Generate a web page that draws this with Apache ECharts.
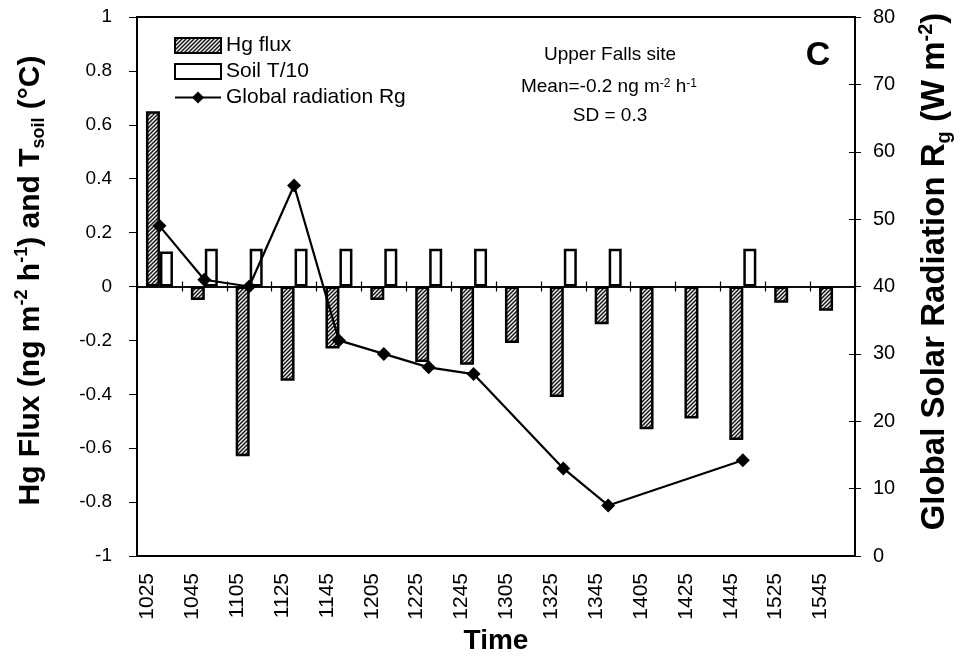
<!DOCTYPE html>
<html>
<head>
<meta charset="utf-8">
<script src="https://cdn.jsdelivr.net/npm/echarts@6/dist/echarts.min.js"></script>
<style>
  html, body { margin: 0; padding: 0; background: #fff; }
  #chart { width: 962px; height: 668px; }
</style>
</head>
<body>
<div id="chart"></div>
<script>
// sample times (HHMM), 1505 was not measured
var times = ['1025', '1045', '1105', '1125', '1145', '1205', '1225', '1245',
             '1305', '1325', '1345', '1405', '1425', '1445', '1525', '1545'];
// Hg flux, ng m-2 h-1
var hgFlux = [0.65, -0.05, -0.63, -0.35, -0.23, -0.05, -0.28, -0.29,
              -0.21, -0.41, -0.14, -0.53, -0.49, -0.57, -0.06, -0.09];
// soil temperature / 10
var soilT = [0.13, 0.14, 0.14, 0.14, 0.14, 0.14, 0.14, 0.14,
             null, 0.14, 0.14, null, null, 0.14, null, null];
// global radiation Rg, W m-2
var rg = [49, 41, 40, 55, 32, 30, 28, 27,
          null, 13, 7.5, null, null, 14.2, null, null];

var FONT = 'Liberation Sans, Arial, Helvetica, sans-serif';

// diagonal hatch used for the Hg flux bars
function hatch() {
  var c = document.createElement('canvas');
  c.width = 4; c.height = 4;
  var g = c.getContext('2d');
  g.fillStyle = '#eee';
  g.fillRect(0, 0, 4, 4);
  g.strokeStyle = '#111';
  g.lineWidth = 1.4;
  g.beginPath();
  g.moveTo(-1, 5); g.lineTo(5, -1);
  g.moveTo(-1, 1); g.lineTo(1, -1);
  g.moveTo(3, 5); g.lineTo(5, 3);
  g.stroke();
  return c;
}

function nameRich(size) {
  return {
    b: { fontSize: size, fontWeight: 'bold', fontFamily: FONT, color: '#000', lineHeight: size + 5 },
    sup: { fontSize: Math.round(size * 0.6), fontWeight: 'bold', fontFamily: FONT, color: '#000', verticalAlign: 'top', lineHeight: 16 },
    sub: { fontSize: Math.round(size * 0.6), fontWeight: 'bold', fontFamily: FONT, color: '#000', verticalAlign: 'bottom', lineHeight: 16 }
  };
}

var myChart = echarts.init(document.getElementById('chart'));
var zeroAxis = function (inside) {
  return {
    type: 'category',
    data: times,
    position: 'bottom',
    axisLine: { onZero: true, onZeroAxisIndex: 0, lineStyle: { color: '#000', width: 1.5 } },
    axisTick: { show: true, inside: inside, length: 5, lineStyle: { color: '#000', width: 1.2 } },
    axisLabel: { show: false },
    splitLine: { show: false }
  };
};

myChart.setOption({
  animation: false,
  backgroundColor: '#fff',
  textStyle: { fontFamily: FONT, color: '#000' },
  grid: {
    left: 137, right: 102, top: 17, bottom: 112,
    show: true, borderColor: '#000', borderWidth: 2, backgroundColor: 'transparent'
  },
  legend: {
    orient: 'vertical',
    left: 169,
    top: 30,
    itemWidth: 46,
    itemHeight: 15,
    itemGap: 5,
    textStyle: { fontSize: 21, color: '#000', fontFamily: FONT },
    data: [{ name: 'Hg flux', icon: 'rect' }, { name: 'Soil T/10', icon: 'rect' }, 'Global radiation Rg']
  },
  xAxis: [{
    type: 'category',
    data: times,
    position: 'bottom',
    name: 'Time',
    nameLocation: 'middle',
    nameGap: 71,
    nameTextStyle: { fontSize: 28, fontWeight: 'bold', color: '#000' },
    axisLine: { onZero: false, lineStyle: { color: '#000', width: 2 } },
    axisTick: { show: false },
    axisLabel: { rotate: 90, fontSize: 21, color: '#000', margin: 17, verticalAlign: 'bottom', lineHeight: 24 },
    splitLine: { show: false }
  }, zeroAxis(true), zeroAxis(false)],
  yAxis: [{
    type: 'value',
    min: -1, max: 1, interval: 0.2,
    position: 'left',
    name: '{b|Hg Flux (ng m}{sup|-2}{b| h}{sup|-1}{b|) and T}{sub|soil}{b| (°C)}',
    nameLocation: 'middle',
    nameRotate: 90,
    nameGap: 89,
    nameTextStyle: { rich: nameRich(30), padding: [0, 0, 0, 12] },
    axisLine: { show: true, lineStyle: { color: '#000', width: 2 } },
    axisTick: { show: true, length: 8, lineStyle: { color: '#000' } },
    axisLabel: { fontSize: 19, color: '#000', margin: 25 },
    splitLine: { show: false }
  }, {
    type: 'value',
    min: 0, max: 80, interval: 10,
    position: 'right',
    name: '{b|Global Solar Radiation R}{sub|g}{b| (W m}{sup|-2}{b|)}',
    nameLocation: 'middle',
    nameRotate: 90,
    nameGap: 61,
    nameTextStyle: { rich: nameRich(33), padding: [0, 0, 0, 30] },
    axisLine: { show: true, lineStyle: { color: '#000', width: 2 } },
    axisTick: { show: true, length: 6, lineStyle: { color: '#000' } },
    axisLabel: { fontSize: 20, color: '#000', margin: 18 },
    splitLine: { show: false }
  }, {
    // inner half of the right-hand ticks
    type: 'value',
    min: 0, max: 80, interval: 10,
    position: 'right',
    axisLine: { show: false },
    axisTick: { show: true, inside: true, length: 6, lineStyle: { color: '#000' } },
    axisLabel: { show: false },
    splitLine: { show: false }
  }],
  graphic: [
    { type: 'text', x: 610, y: 55, style: { text: 'Upper Falls site', font: '19px ' + FONT, fill: '#000', align: 'center', verticalAlign: 'middle' } },
    { type: 'text', x: 609, y: 87, style: {
        text: 'Mean=-0.2 ng m{sup|-2} h{sup|-1}', font: '19px ' + FONT, fill: '#000', align: 'center', verticalAlign: 'middle',
        rich: { sup: { fontSize: 12, fontFamily: FONT, fill: '#000', verticalAlign: 'top', lineHeight: 12 } }
      } },
    { type: 'text', x: 610, y: 116, style: { text: 'SD = 0.3', font: '19px ' + FONT, fill: '#000', align: 'center', verticalAlign: 'middle' } },
    { type: 'text', x: 818, y: 56, style: { text: 'C', font: 'bold 34px ' + FONT, fill: '#000', align: 'center', verticalAlign: 'middle' } }
  ],
  series: [{
    name: 'Hg flux',
    type: 'bar',
    barWidth: 14,
    barGap: '0%',
    itemStyle: { color: { image: hatch(), repeat: 'repeat' }, borderColor: '#000', borderWidth: 2.5 },
    data: hgFlux
  }, {
    name: 'Soil T/10',
    type: 'bar',
    barWidth: 13,
    barGap: '0%',
    itemStyle: { color: '#fff', borderColor: '#000', borderWidth: 2.5 },
    data: soilT
  }, {
    name: 'Global radiation Rg',
    type: 'line',
    yAxisIndex: 1,
    connectNulls: true,
    symbol: 'diamond',
    symbolSize: 14,
    lineStyle: { color: '#000', width: 2.2 },
    itemStyle: { color: '#000' },
    data: rg
  }]
});
window.addEventListener('resize', function () {
  myChart.resize();
});
</script>
</body>
</html>
